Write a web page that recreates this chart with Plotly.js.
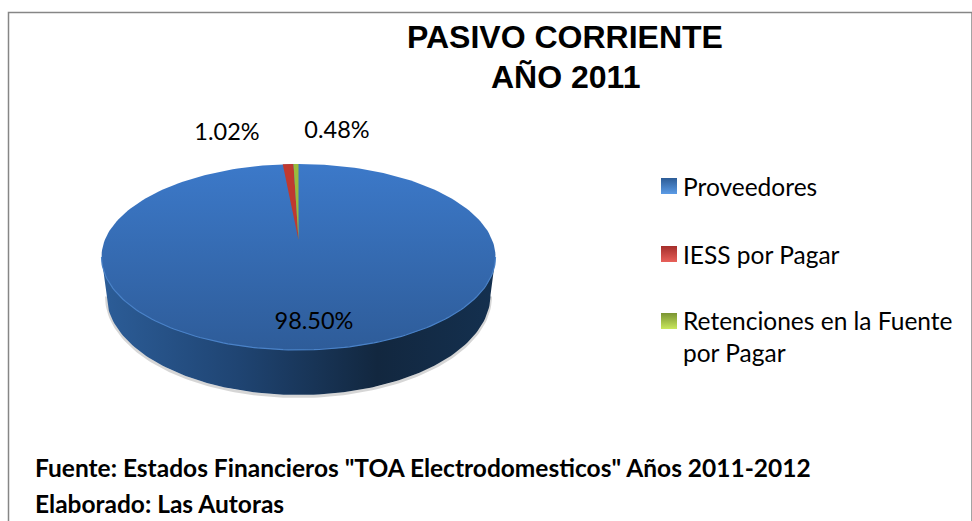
<!DOCTYPE html>
<html>
<head>
<meta charset="utf-8">
<script src="https://cdn.plot.ly/plotly-3.0.1.min.js"></script>
<style>html,body{margin:0;padding:0;background:#fff}#chart{width:972px;height:521px}</style>
</head>
<body>
<div id="chart"></div>
<script>
// Data
const categories = ['Proveedores', 'IESS por Pagar', 'Retenciones en la Fuente por Pagar'];
const legendLabels = ['Proveedores', 'IESS por Pagar', 'Retenciones en la Fuente<br>por Pagar'];
const shares = [98.50, 1.02, 0.48];
const titleLines = ['PASIVO CORRIENTE', 'AÑO 2011'];
const noteLines = ['Fuente: Estados Financieros "TOA Electrodomesticos" Años 2011-2012', 'Elaborado: Las Autoras'];

// Pie geometry in page-sized axis units
const disc = {cx: 298.5, cy: 257, rx: 197, ry: 93, apexY: 240};
const base = {cy: 295, rx: 192, ry: 100};
const perspective = 0.85;
const labelPos = [[314, 323], [227, 134], [337, 132]];
const legendPos = [[669, 186], [669, 254], [669, 321]];
const faceColors = ['#3a74c0', '#c0392f', '#9bbb3c'];
const swatch = [['#2d5c96', '#5b9be6'], ['#a52e2b', '#e8605a'], ['#7a9432', '#c9e85c']];

function arc(c, a0, a1, n) {
  const xs = [], ys = [];
  for (let i = 0; i <= n; i++) {
    const t = (a0 + (a1 - a0) * i / n) * Math.PI / 180;
    xs.push(c.cx + c.rx * Math.sin(t));
    ys.push(c.cy - c.ry * Math.cos(t));
  }
  return [xs, ys];
}
const traces = [];
// soft shadow of the wall
const low = arc({cx: disc.cx, cy: base.cy, rx: base.rx, ry: base.ry}, -90, -270, 120);
traces.push({x: low[0], y: low[1].map(v => v + 1.5), mode: 'lines', line: {color: 'rgba(0,0,0,0.16)', width: 3}, hoverinfo: 'skip', showlegend: false});
// wall
traces.push({
  x: [disc.cx - disc.rx].concat(low[0], [disc.cx + disc.rx]),
  y: [disc.cy].concat(low[1], [disc.cy]),
  mode: 'lines', fill: 'toself', line: {width: 0},
  fillgradient: {type: 'horizontal', colorscale: [[0, '#2c5d98'], [0.35, '#1f4472'], [0.7, '#12273f'], [1, '#14304f']]},
  hoverinfo: 'skip', showlegend: false
});
// main face
const face = arc(disc, 0, 360, 240);
traces.push({
  name: categories[0], x: face[0], y: face[1], mode: 'lines', fill: 'toself', line: {width: 0},
  fillgradient: {type: 'vertical', colorscale: [[0, '#2e5c99'], [1, '#3c79c9']]},
  hoverinfo: 'skip', showlegend: false
});
// rim highlight
const rim = arc(disc, 90, 270, 120);
traces.push({x: rim[0], y: rim[1], mode: 'lines', line: {color: '#4a82c8', width: 1.2}, hoverinfo: 'skip', showlegend: false});
// small slices: swept back from the top of the pie
const total = shares.reduce((a, b) => a + b, 0);
const starts = {2: 0, 1: shares[2]};
[1, 2].forEach(i => {
  const a0 = -starts[i] / total * 360 * perspective;
  const a1 = -(starts[i] + shares[i]) / total * 360 * perspective;
  const a = arc(disc, a0, a1, 12);
  traces.push({
    name: categories[i],
    x: [disc.cx].concat(a[0], [disc.cx]),
    y: [disc.apexY].concat(a[1], [disc.apexY]),
    mode: 'lines', fill: 'toself', fillcolor: faceColors[i], line: {width: 0},
    hoverinfo: 'skip', showlegend: false
  });
});
// data labels
traces.push({
  x: labelPos.map(p => p[0]), y: labelPos.map(p => p[1]),
  text: shares.map(v => v.toFixed(2) + '%'),
  mode: 'text', textposition: 'middle center',
  textfont: {family: 'Lato, sans-serif', size: 23.5, color: '#000'},
  hoverinfo: 'skip', showlegend: false
});
// legend swatches
categories.forEach((c, i) => {
  traces.push({
    name: c, x: [legendPos[i][0]], y: [legendPos[i][1]], mode: 'markers',
    marker: {symbol: 'square', size: 16, color: swatch[i][0], gradient: {type: 'vertical', color: swatch[i][1]}},
    hoverinfo: 'skip', showlegend: false
  });
});

const annotations = legendLabels.map((t, i) => ({
  x: 681, y: legendPos[i][1], xref: 'x', yref: 'y', xanchor: 'left', yanchor: i === 2 ? 'top' : 'middle',
  yshift: i === 2 ? 17 : 0, align: 'left', text: t, showarrow: false,
  font: {family: 'Lato, sans-serif', size: 24.5, color: '#000'}
}));
noteLines.forEach((t, i) => annotations.push({
  x: 33, y: [467, 503][i], xref: 'x', yref: 'y', xanchor: 'left', yanchor: 'middle', align: 'left',
  text: '<b>' + t + '</b>', showarrow: false,
  font: {family: 'Lato, sans-serif', size: 24.5, color: '#000'}
}));
titleLines.forEach((t, i) => annotations.push({
  x: 565, y: [37, 77][i], xref: 'x', yref: 'y', xanchor: 'center', yanchor: 'middle',
  text: '<b>' + t + '</b>', showarrow: false,
  font: {family: 'Liberation Sans, Arial, sans-serif', size: 32, color: '#000'}
}));

const layout = {
  width: 972, height: 521,
  margin: {l: 0, r: 0, t: 0, b: 0},
  paper_bgcolor: '#fff', plot_bgcolor: '#fff',
  xaxis: {range: [0, 972], visible: false, fixedrange: true},
  yaxis: {range: [521, 0], visible: false, fixedrange: true},
  showlegend: false,
  shapes: [{type: 'rect', xref: 'x', yref: 'y', x0: 8.5, y0: 12.5, x1: 972, y1: 530, line: {color: '#868686', width: 1.5}, layer: 'below'}],
  annotations: annotations
};
Plotly.newPlot('chart', traces, layout, {displayModeBar: false, staticPlot: true});
</script>
</body>
</html>
